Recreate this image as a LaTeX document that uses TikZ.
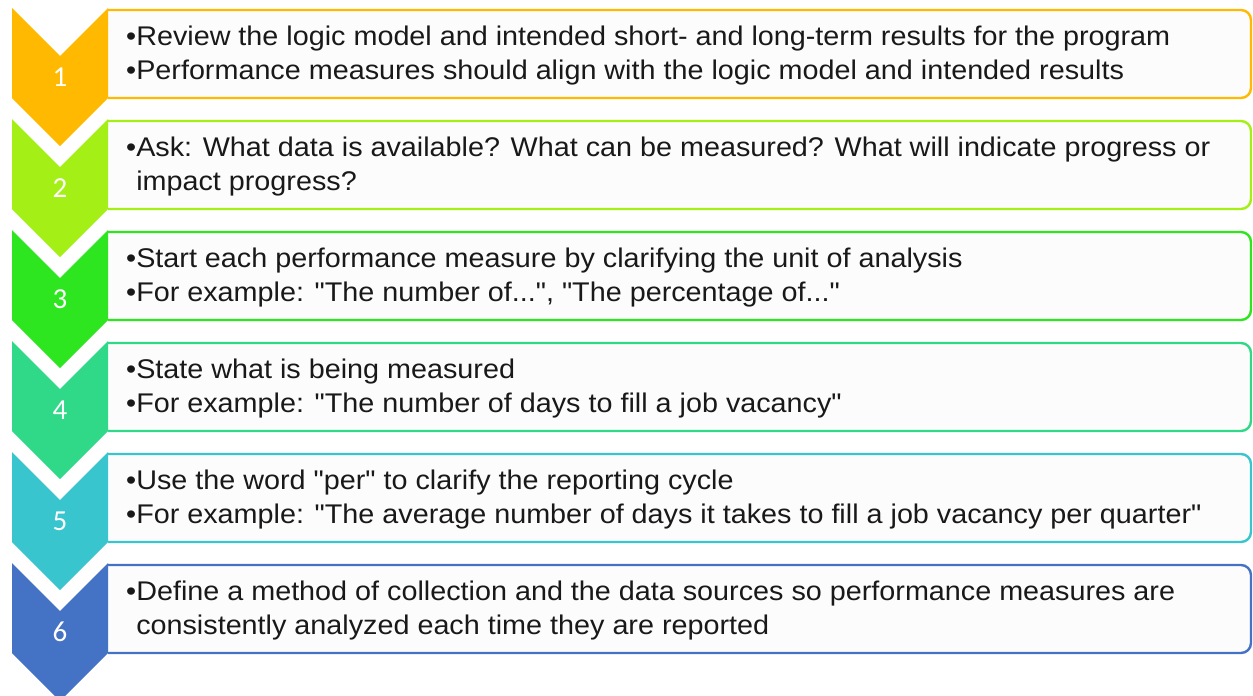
\documentclass[tikz,border=0pt]{standalone}
\usepackage{fontspec}
\setmainfont{Liberation Sans}[Ligatures=TeXOff, FakeStretch=1.065]
\newfontfamily\numfont{Carlito}
\definecolor{stepA}{HTML}{FFB900}
\definecolor{stepB}{HTML}{A4EF16}
\definecolor{stepC}{HTML}{2DE61F}
\definecolor{stepD}{HTML}{2FD988}
\definecolor{stepE}{HTML}{38C5CE}
\definecolor{stepF}{HTML}{4472C4}
\definecolor{boxfill}{HTML}{FCFCFC}
\begin{document}
\begin{tikzpicture}[x=1pt,y=-1pt,
  itembox/.style={draw, line width=2.4pt, fill=boxfill, rounded corners=10pt},
  stepnum/.style={text=white, font=\numfont\fontsize{29}{29}\selectfont, inner sep=0pt},
  itemtext/.style={anchor=west, align=left, inner sep=0pt, text=black!90,
    font=\fontsize{27}{34}\selectfont}]
\useasboundingbox (0,0) rectangle (1253,696);
% text boxes; their left edge is hidden behind the chevrons
\begin{scope}
  \clip (108,0) rectangle (1253,696);
  \foreach \t/\c in {8/stepA,119/stepB,230/stepC,341/stepD,452/stepE,563/stepF}
    \path[itembox, draw=\c] (80,\t+2) rectangle (1251,\t+90);
\end{scope}
% numbered chevrons
\foreach \t/\c in {8/stepA,119/stepB,230/stepC,341/stepD,452/stepE,563/stepF}
  \fill[\c] (12,\t) -- (60,\t+48) -- (108,\t) -- (108,\t+90) -- (60,\t+138) -- (12,\t+90) -- cycle;
\node[stepnum] (n1) at (60,77) {1};
\node[stepnum] (n2) at (60,188) {2};
\node[stepnum] (n3) at (60,299) {3};
\node[stepnum] (n4) at (60,410) {4};
\node[stepnum] (n5) at (60,521) {5};
\node[stepnum] (n6) at (60,632) {6};
\node[itemtext] (t1) at (126,56) {•Review the logic model and intended short- and long-term results for the program\\•Performance measures should align with the logic model and intended results};
\node[itemtext] (t2) at (126,167) {•Ask: What data is available? What can be measured? What will indicate progress or\\\phantom{•}impact progress?};
\node[itemtext] (t3) at (126,278) {•Start each performance measure by clarifying the unit of analysis\\•For example: "The number of...", "The percentage of..."};
\node[itemtext] (t4) at (126,389) {•State what is being measured\\•For example: "The number of days to fill a job vacancy"};
\node[itemtext] (t5) at (126,500) {•Use the word "per" to clarify the reporting cycle\\•For example: "The average number of days it takes to fill a job vacancy per quarter"};
\node[itemtext] (t6) at (126,611) {•Define a method of collection and the data sources so performance measures are\\\phantom{•}consistently analyzed each time they are reported};
\end{tikzpicture}
\end{document}
